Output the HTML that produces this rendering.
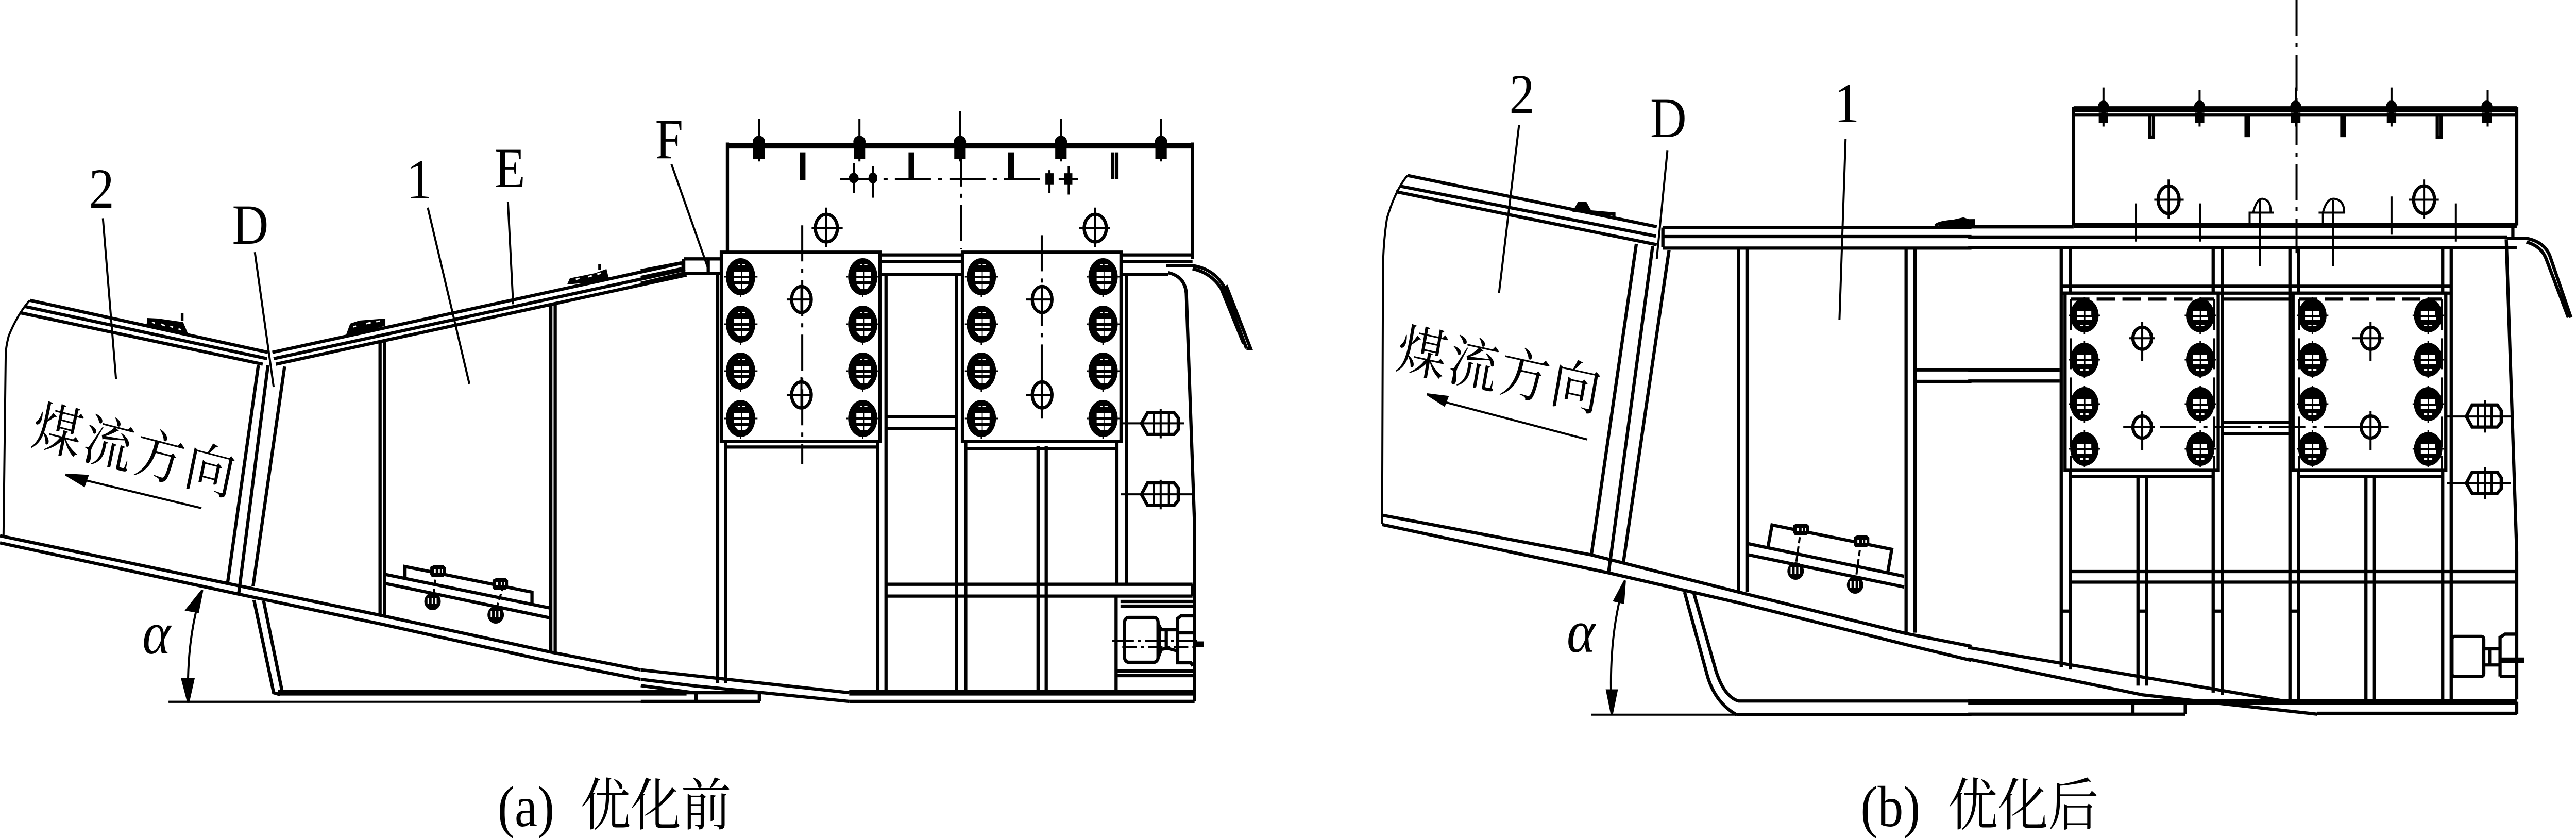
<!DOCTYPE html>
<html><head><meta charset="utf-8"><style>
html,body{margin:0;padding:0;background:#fff;width:100%;height:100%;overflow:hidden}
svg{display:block;position:absolute;left:0;top:0;width:100vw;height:100vh}
.l path,.l ellipse,.l rect,.l line{vector-effect:non-scaling-stroke}
.l{fill:none;stroke:#000;stroke-width:6.3;stroke-linejoin:miter}
.t{stroke-width:4}
.k{stroke-width:11}
.dd{stroke-width:4;stroke-dasharray:70 14 8 14}
.f{fill:#000;stroke:#000}
.w{fill:#fff}
text{fill:#000;stroke:none}
.lat{font-family:"Liberation Serif",serif;font-size:110px}
.cjk{font-family:"Noto Serif CJK SC","Liberation Serif",serif;font-size:108px}
</style></head><body>
<svg xmlns="http://www.w3.org/2000/svg" viewBox="0 0 5628 1626" preserveAspectRatio="none">
<defs>
<g id="ba">
<ellipse rx="32" ry="36" fill="#000"/>
<path d="M-14-10h15v8h-15zM3-10h15v8h-15zM-14 3h15v5h-15zM3 3h15v5h-15zM-14 14h15v9h-6zM3 14h15l-8 9h-7zM-6-24h5v2h-5zM3-24h7v2h-7z" fill="#fff"/>
<path d="M-36 0h4M32 0h5M0 36v4" stroke="#000" stroke-width="3"/>
</g>
<g id="bb">
<ellipse rx="31" ry="33" fill="#000"/>
<path d="M-16-9h15v8h-15zM2-9h13v8h-13zM-16 3h15v6h-15zM2 3h15v6h-15zM-9 18h7v3h-7zM2 18h7v3h-7z" fill="#fff"/>
<path d="M-34 0h5M29 0h6M0-36v4M0 32v4" stroke="#000" stroke-width="3"/>
</g>
<g id="bh">
<ellipse rx="18" ry="17" fill="#000"/>
<path d="M-11-7h3v12h-3zM-2-7h3v12h-3zM6-7h3v12h-3z" fill="#fff"/>
</g>
<g id="nut">
<path d="M-17-8L-10-11H12L17-7V8L12 11H-14L-17 7Z" fill="#000"/>
<path d="M-9-3h4v6h-4zM1-3h3v6h-3zM8-3h3v6h-3z" fill="#fff"/>
</g>
</defs>
<rect width="5628" height="1626" fill="#fff"/>

<!-- LEFT VIEW part 1 -->
<g class="l" transform="translate(0,200) scale(.9566,.7653)">
<path d="M68 500L612 632M58 516L610 648M48 532L600 662"/>
<path class="t" d="M68 500Q40 535 20 590Q13 620 13 640L8 1095"/>
<path d="M0 1097L520 1218L875 1300L1258 1392L1463 1437"/>
<path d="M0 1115L545 1245L875 1322L1258 1416L1463 1461"/>
<path d="M590 665L520 1215M612 665L545 1245M650 668L578 1225"/>
<path d="M580 1260L625 1495L640 1500M602 1262L645 1495"/>
<path d="M622 632L1560 405M625 648L1565 422M630 662L1568 436"/>
<path d="M1560 405V438"/>
<path d="M868 605V1300M878 605V1300M1258 512V1392M1268 512V1392"/>
<path d="M880 1195L1255 1280M880 1218L1255 1305"/>
<path d="M925 1205V1175L1215 1240V1272"/>
<path class="k" d="M635 1495H1568"/>
<path class="t" d="M385 1518H1568"/>
<path class="t" stroke-dasharray="12 6" d="M997 1185L988 1262M1150 1222L1130 1297"/>
<!-- leaders -->
<path class="t" d="M235 292L265 700M582 378L625 720M977 265L1072 712M1160 250L1172 510"/>
<!-- arrow -->
<path class="t" d="M460 1027L190 955"/>
<path class="f t" d="M150 942L200 945L192 970Z"/>
<!-- alpha arc -->
<path class="t" d="M458 1245Q425 1370 430 1515"/>
<path class="f t" d="M462 1235L426 1285L452 1290Z"/>
<path class="f t" d="M430 1520L416 1460L442 1460Z"/>
<path class="t" d="M385 1518H640"/>
</g>

<!-- fasteners left view, real coords -->
<path d="M322 617L345 618L400 625L412 650L395 650L320 632Z" fill="#000"/>
<path d="M332 625l6 2M352 629l8 3M372 633l6 2M390 638l6 2" stroke="#fff" stroke-width="3"/>
<path d="M398 608V622" stroke="#000" stroke-width="6"/>
<path d="M756 650L765 628L785 622L842 618L842 632L800 642Z" fill="#000"/>
<path d="M772 634l6-1M800 628l10-2M822 624l8-1" stroke="#fff" stroke-width="3"/>
<path d="M1239 552L1245 540L1300 530L1325 522L1330 540L1290 548Z" fill="#000"/>
<path d="M1258 542l8-2M1285 537l8-2M1305 532l8-2" stroke="#fff" stroke-width="3"/>
<path d="M1310 512V524" stroke="#000" stroke-width="6"/>
<use href="#nut" x="957" y="1108"/><use href="#nut" x="1093" y="1133"/>
<use href="#bh" x="945" y="1167"/><use href="#bh" x="1083" y="1193"/>

<!-- LEFT VIEW part 2 -->
<g class="l" transform="translate(1400,200) scale(.8929,.7653)">
<path class="k" d="M210 108H1350"/>
<path d="M212 100V378M1350 100V395"/>
<path d="M0 425L100 405M0 442L100 420M0 457L104 432M105 395H195M105 432H195M105 395V432M165 395V432"/>
<!-- frame verticals -->
<path d="M188 432V1470M208 860V1470M580 860V1495M600 435V1495M772 435V1495M795 860V1495M972 870V1495M992 870V1495M1165 860V1218M1188 432V1218M1163 1250V1495"/>
<path d="M590 385H785M590 402H785M590 435H785M1175 385H1350M1175 402H1350M1175 435H1290"/>
<path d="M600 795H772M600 825H772M210 872H580M795 876H1165"/>
<path d="M600 1220H1350M600 1250H1350M1350 1220V1250"/>
<path class="k" d="M510 1495H1355"/>
<path d="M510 1517H1355M1355 1495V1517"/>
<path d="M1290 430Q1335 440 1335 490L1355 1070V1500"/>
<path d="M1285 412H1350Q1400 420 1425 462L1482 622M1350 420Q1395 430 1420 470L1475 610M1482 622H1492L1432 462"/>
<!-- sloped bottom -->
<path d="M0 1437L510 1495M0 1461L135 1478L510 1517M0 1477L130 1495"/>
<path d="M0 1495H290M0 1517H292M290 1495V1517M135 1495V1517"/>
<!-- plates -->
<rect class="w" x="197" y="378" width="388" height="480"/>
<rect class="w" x="787" y="378" width="388" height="480"/>
<!-- top bolts -->
<path class="t" d="M289 40V148M535 40V148M781 20V148M1028 40V148M1273 40V148"/>
<path class="k" d="M396 125V195M662 125V195"/>
<path d="M902 125V192M910 125V192M1155 125V192M1165 125V192"/>
<path class="dd" d="M488 193H1070"/>
<path class="dd" stroke-dasharray="60 14 10 14" d="M784 120V370"/>
<path class="dd" stroke-dasharray="70 14 8 14" d="M395 310V915M981 335V800"/>
<g class="f">
<ellipse cx="289" cy="98" rx="11" ry="11"/><rect x="279" y="118" width="20" height="20"/>
<ellipse cx="535" cy="98" rx="11" ry="11"/><rect x="525" y="118" width="20" height="20"/>
<ellipse cx="781" cy="98" rx="11" ry="11"/><rect x="771" y="118" width="20" height="20"/>
<ellipse cx="1028" cy="98" rx="11" ry="11"/><rect x="1018" y="118" width="20" height="20"/>
<ellipse cx="1273" cy="98" rx="11" ry="11"/><rect x="1263" y="118" width="20" height="20"/>
<ellipse cx="521" cy="190" rx="8" ry="9"/><ellipse class="w" cx="568" cy="190" rx="7" ry="10"/>
<rect x="994" y="182" width="12" height="20"/><rect x="1040" y="182" width="12" height="20"/>
</g>
<path class="t" d="M521 152V228M568 160V240M1000 170V228M1047 160V232"/>
<!-- holes -->
<ellipse cx="454" cy="317" rx="27" ry="35"/><path class="t" d="M418 317H494M454 265V365"/>
<ellipse cx="1112" cy="317" rx="27" ry="35"/><path class="t" d="M1072 317H1148M1112 265V365"/>
<ellipse cx="393" cy="498" rx="24" ry="33"/><path class="t" d="M357 498H418M393 465V530"/>
<ellipse cx="393" cy="740" rx="24" ry="33"/><path class="t" d="M357 740H418M393 695V775"/>
<ellipse cx="982" cy="498" rx="24" ry="33"/><path class="t" d="M942 498H1008M982 465V530"/>
<ellipse cx="982" cy="740" rx="24" ry="33"/><path class="t" d="M942 740H1008M982 695V775"/>
<!-- slots -->
<path d="M1225 812L1240 785H1305L1315 798V828L1305 840H1240Z"/>
<path class="t" d="M1180 812H1330M1255 785V840M1272 775V850M1292 785V840"/>
<path d="M1225 992L1240 963H1305L1315 976V1008L1305 1020H1240Z"/>
<path class="t" d="M1175 992H1350M1255 963V1020M1272 955V1030M1292 963V1020"/>
<!-- F leader -->
<path class="t" d="M75 155L165 420"/>
</g>

<!-- left motor, real coords -->
<g class="l">
<path d="M2448 1167H2606M2448 1176H2606M2442 1302H2606M2442 1311H2606"/>
<rect x="2457" y="1198" width="73" height="87" rx="9"/>
<path d="M2530 1210L2537 1222H2573M2530 1277L2537 1260L2550 1258L2573 1263M2533 1222V1260M2548 1222V1260"/>
<path d="M2607 1195H2580L2573 1200V1286H2602L2606 1292M2573 1228H2607"/>
<path class="t" stroke-dasharray="42 8 6 8" d="M2430 1243H2615"/>
<path class="t" stroke-dasharray="28 8 6 8" d="M2452 1255H2612"/>
<path d="M2610 1250H2630" stroke-width="11"/>
</g>

<!-- bolts left -->
<use href="#ba" x="1618" y="537"/><use href="#ba" x="1618" y="629"/><use href="#ba" x="1618" y="720"/><use href="#ba" x="1618" y="812"/>
<use href="#ba" x="1885" y="537"/><use href="#ba" x="1885" y="629"/><use href="#ba" x="1885" y="720"/><use href="#ba" x="1885" y="812"/>
<use href="#ba" x="2144" y="537"/><use href="#ba" x="2144" y="629"/><use href="#ba" x="2144" y="720"/><use href="#ba" x="2144" y="812"/>
<use href="#ba" x="2410" y="537"/><use href="#ba" x="2410" y="629"/><use href="#ba" x="2410" y="720"/><use href="#ba" x="2410" y="812"/>

<!-- RIGHT VIEW part 1 -->
<g class="l" transform="translate(2950,100) scale(.8929,.8291)">
<path d="M140 290L750 410M122 315L748 432M112 328L750 452"/>
<path class="t" d="M140 290Q110 325 90 390Q80 450 80 520L78 1105"/>
<path d="M78 1085L590 1178L950 1265L1360 1362L1520 1392"/>
<path d="M78 1107L632 1220L950 1290L1360 1388L1520 1425"/>
<path d="M700 450L590 1178M740 455L632 1220M780 465L668 1198"/>
<path d="M765 412H1520M765 433H1520M765 460H1520M765 412V458"/>
<path d="M950 462V1265M972 462V1265M1360 462V1360M1382 462V1360"/>
<path d="M1382 745H1520M1382 772H1520"/>
<path d="M975 1152L1355 1228M975 1178L1355 1253"/>
<path d="M1022 1160L1032 1108L1325 1165L1315 1220"/>
<path d="M818 1265L875 1465Q895 1525 945 1552M840 1265L895 1450Q915 1510 950 1520H1520"/>
<path d="M945 1552H1520"/>
<path class="t" stroke-dasharray="12 6" d="M1103 1115L1088 1218M1250 1145L1235 1248"/>
<path d="M550 372L645 380V392"/>
<path class="f" d="M550 372L560 355L575 355L585 372Z"/>
<path d="M1432 408Q1440 396 1525 396V410"/>
<path class="f" d="M1440 405L1500 392L1525 400V410Z"/>
<!-- leaders -->
<path class="t" d="M413 172L364 565M776 232L750 485M1212 205L1197 628"/>
<!-- arrow -->
<path class="t" d="M580 908L230 820"/>
<path class="f t" d="M188 802L238 808L230 828Z"/>
<path class="t" d="M668 1250Q630 1380 640 1545"/>
<path class="f t" d="M672 1238L646 1285L668 1290Z"/>
<path class="f t" d="M640 1552L628 1495L652 1495Z"/>
<path class="t" d="M590 1552H950"/>
</g>
<use href="#nut" x="3935" y="1027"/><use href="#nut" x="4067" y="1050"/>
<use href="#bh" x="3923" y="1108"/><use href="#bh" x="4053" y="1135"/>

<!-- RIGHT VIEW part 2 -->
<g class="l" transform="translate(4300,0) scale(.847,.8929)">
<path class="k" d="M272 237H1415"/>
<path d="M272 250H1415M272 232V490M1415 232V490"/>
<path class="k" d="M272 490H1415"/>
<path d="M0 493H272M0 515H1390M0 538H1415M1405 490V515"/>
<path d="M240 540V1450M264 540V1455M632 540V1505M656 540V1510M830 540V1520M852 540V1520M1224 540V1522M1246 540V1522"/>
<path d="M438 1035V1490M460 1035V1490M1026 1035V1522M1048 1035V1522"/>
<path d="M240 622H1245M240 637H1245"/>
<path d="M660 650H830M660 918H830M660 942H830M0 804H236M0 828H236"/>
<rect class="w" x="250" y="637" width="395" height="385"/>
<rect class="w" x="838" y="637" width="394" height="385"/>
<path d="M265 1035H632M852 1035H1224"/>
<path stroke-dasharray="36 14" d="M265 650H635M853 650H1222"/>
<path stroke-dasharray="60 16" class="t" d="M265 650V1020M635 650V1020M853 650V1020M1222 650V1020"/>
<path d="M264 1242H1415M264 1265H1415"/>
<path d="M240 1328H264M632 1328H656M830 1328H852M438 1328H460"/>
<path d="M1388 520L1415 1200V1520"/>
<path d="M1390 518H1440Q1485 525 1500 555L1555 690M1440 526Q1480 535 1492 565L1548 690"/>
<path class="k" d="M0 1525H1415"/>
<path d="M0 1552H560M560 1525V1552M425 1525V1552M900 1550H1415M1415 1525V1552"/>
<path d="M0 1407L805 1522M0 1432L450 1510L900 1552"/>
<!-- top -->
<path class="t" d="M349 190V275M597 195V275M845 190V275M1092 190V275M1340 195V275"/>
<g class="f">
<ellipse cx="349" cy="232" rx="10" ry="10"/><rect x="341" y="248" width="16" height="16"/>
<ellipse cx="597" cy="232" rx="10" ry="10"/><rect x="589" y="248" width="16" height="16"/>
<ellipse cx="845" cy="232" rx="10" ry="10"/><rect x="837" y="248" width="16" height="16"/>
<ellipse cx="1092" cy="232" rx="10" ry="10"/><rect x="1084" y="248" width="16" height="16"/>
<ellipse cx="1338" cy="232" rx="10" ry="10"/><rect x="1330" y="248" width="16" height="16"/>
</g>
<path d="M468 252V298H478V252M1210 252V298H1220V252"/>
<path class="k" d="M720 252V298M967 252V298"/>
<path class="dd" stroke-dasharray="70 14 8 14" d="M847 0V550"/>
<path class="t" d="M433 442V525M599 442V525M1092 427V510M1258 442V525M753 490V578M941 490V578"/>
<ellipse cx="517" cy="434" rx="27" ry="30"/><path class="t" d="M480 434H556M517 390V475"/>
<ellipse cx="1176" cy="434" rx="27" ry="30"/><path class="t" d="M1136 434H1214M1176 390V475"/>
<path class="t" d="M726 490V462H788M735 462Q745 430 760 432Q782 435 780 462M904 462H972M915 490V462Q925 430 945 432Q970 435 970 462M753 435V490M941 435V490"/>
<!-- holes -->
<ellipse cx="449" cy="735" rx="24" ry="24"/><path class="t" d="M415 735H482M449 700V785"/>
<ellipse cx="449" cy="928" rx="24" ry="24"/><path class="t" d="M400 928H482M449 893V978"/>
<ellipse cx="1038" cy="735" rx="24" ry="24"/><path class="t" d="M990 735H1072M1038 700V785"/>
<ellipse cx="1038" cy="928" rx="24" ry="24"/><path class="t" d="M990 928H1085M1038 893V978"/>
<path class="dd" stroke-dasharray="60 14 10 14" d="M495 928H1000"/>
<!-- slots -->
<path d="M1285 905L1300 880H1365L1375 892V918L1365 928H1300Z"/>
<path class="t" d="M1235 905H1400M1315 880V928M1333 870V940M1350 880V928"/>
<path d="M1285 1050L1300 1026H1365L1375 1038V1062L1365 1072H1300Z"/>
<path class="t" d="M1235 1050H1400M1315 1026V1072M1333 1015V1085M1350 1026V1072"/>
<!-- motor -->
<rect x="1248" y="1383" width="82" height="87" rx="6"/>
<path d="M1330 1410H1375M1330 1445H1375M1345 1410V1445M1372 1470V1385L1385 1378H1415M1372 1470H1415"/>
<path class="k" d="M1375 1435H1435"/>
</g>

<!-- bolts right -->
<use href="#bb" x="4554" y="612"/><use href="#bb" x="4554" y="698"/><use href="#bb" x="4554" y="784"/><use href="#bb" x="4554" y="871"/>
<use href="#bb" x="4807" y="612"/><use href="#bb" x="4807" y="698"/><use href="#bb" x="4807" y="784"/><use href="#bb" x="4807" y="871"/>
<use href="#bb" x="5052" y="612"/><use href="#bb" x="5052" y="698"/><use href="#bb" x="5052" y="784"/><use href="#bb" x="5052" y="871"/>
<use href="#bb" x="5305" y="612"/><use href="#bb" x="5305" y="698"/><use href="#bb" x="5305" y="784"/><use href="#bb" x="5305" y="871"/>

<!-- labels -->
<text class="lat" x="222" y="403" text-anchor="middle">2</text>
<text class="lat" x="547" y="473" text-anchor="middle">D</text>
<text class="lat" x="916" y="385" text-anchor="middle">1</text>
<text class="lat" x="1114" y="363" text-anchor="middle">E</text>
<text class="lat" x="1462" y="307" text-anchor="middle">F</text>
<text class="lat" x="3325" y="220" text-anchor="middle">2</text>
<text class="lat" x="3645" y="266" text-anchor="middle">D</text>
<text class="lat" x="4035" y="237" text-anchor="middle">1</text>
<text class="lat" style="font-style:italic;font-size:118px" x="342" y="1268" text-anchor="middle">α</text>
<text class="lat" style="font-style:italic;font-size:118px" x="3454" y="1265" text-anchor="middle">α</text>
<text class="cjk" text-anchor="middle" letter-spacing="6" transform="translate(287,912) rotate(13)">煤流方向</text>
<text class="cjk" text-anchor="middle" letter-spacing="6" transform="translate(3271,756) rotate(11)">煤流方向</text>
<text class="lat" style="font-size:112px" x="1087" y="1603">(a)</text>
<text class="cjk" style="font-size:110px" x="1268" y="1601">优化前</text>
<text class="lat" style="font-size:112px" x="4065" y="1603">(b)</text>
<text class="cjk" style="font-size:110px" x="4255" y="1601">优化后</text>
</svg>
</body></html>
